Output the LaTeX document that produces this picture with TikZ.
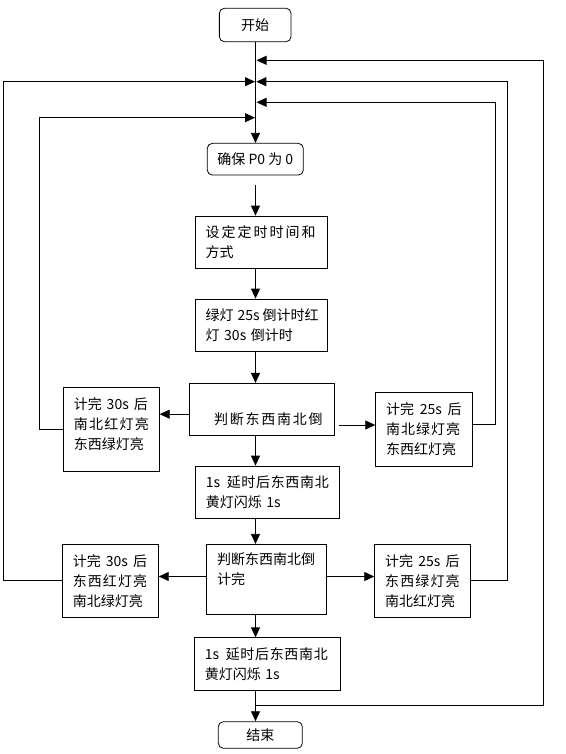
\documentclass[tikz,border=0pt]{standalone}
\usepackage{fontspec}
\usetikzlibrary{arrows.meta}
\newfontfamily\cjk{Noto Sans CJK SC}
\newcommand\spr[2]{\leavevmode\hbox to #1pt{#2}}
\tikzset{
  conn/.style={line width=0.8pt},
  arr/.style={conn,-{Triangle[length=10pt,width=9pt]}},
  box/.style={draw,line width=0.8pt,inner xsep=10.5pt,inner ysep=0pt,align=left,
    font=\cjk\fontsize{14}{20}\selectfont},
  rbox/.style={draw,line width=0.8pt,rounded corners=5pt,inner sep=0pt,align=center,
    font=\cjk\fontsize{14}{20}\selectfont},
}
\begin{document}
\begin{tikzpicture}[x=1pt,y=-1pt]
\useasboundingbox (0,0) rectangle (565,754);
% nodes
\node[rbox,minimum width=71.7pt,minimum height=33.4pt] (start) at (255.2,25) {开始};
\node[rbox,minimum width=96pt,minimum height=31.7pt] (ensure) at (255.3,159.2) {确保 P0 为 0};
\node[box,text width=111.3pt,minimum height=52.3pt] (set) at (261.2,242.2)
  {\spr{110}{设\hfil 定\hfil 定\hfil 时\hfil 时\hfil 间\hfil 和}\\方式};
\node[box,text width=111.3pt,minimum height=52pt] (green) at (261.2,325)
  {\spr{109}{绿\hfil 灯\hfil\hskip4pt 25s\hskip3pt\hfil 倒\hfil 计\hfil 时\hfil 红}\\灯 30s 倒计时};
\node[box,text width=123.7pt,minimum height=51.7pt] (jd1) at (261.7,409.2)
  {\rule{0pt}{12pt}\\\hspace*{14.2pt}\spr{108.7}{判\hfil 断\hfil 东\hfil 西\hfil 南\hfil 北\hfil 倒}};
\node[box,text width=75pt,minimum height=83.7pt] (lb1) at (111.3,429.2)
  {\spr{74}{计完\hfil 30s\hfil 后}\\\spr{75}{南\hfil 北\hfil 红\hfil 灯\hfil 亮}\\东西绿灯亮\rule[-11.5pt]{0pt}{0pt}};
\node[box,text width=75.6pt,minimum height=73.3pt] (rb1) at (424,429.3)
  {\spr{75.5}{计完\hfil 25s\hfil 后}\\\spr{74}{南\hfil 北\hfil 绿\hfil 灯\hfil 亮}\\东西红灯亮};
\node[box,text width=123pt,minimum height=52.3pt] (d1) at (267.3,492.2)
  {\spr{123}{1s\hskip6pt\hfil 延\hfil 时\hfil 后\hfil 东\hfil 西\hfil 南\hfil 北}\\黄灯闪烁 1s};
\node[box,text width=98.6pt,minimum height=70pt] (jd2) at (266.5,579.3)
  {判断东西南北倒\\计完\\\rule[-2pt]{0pt}{0pt}};
\node[box,text width=75pt,minimum height=72.7pt] (lb2) at (110.3,580.7)
  {\spr{74.4}{计完\hfil 30s\hfil 后}\\\spr{74.4}{东\hfil 西\hfil 红\hfil 灯\hfil 亮}\\南北绿灯亮};
\node[box,text width=74.6pt,minimum height=72.7pt] (rb2) at (422.5,580.7)
  {\spr{74.5}{计完\hfil 25s\hfil 后}\\\spr{74.5}{东\hfil 西\hfil 绿\hfil 灯\hfil 亮}\\南北红灯亮};
\node[box,text width=125.4pt,minimum height=52.3pt] (d2) at (267.5,663.9)
  {\spr{123}{1s\hskip6pt\hfil 延\hfil 时\hfil 后\hfil 东\hfil 西\hfil 南\hfil 北}\\黄灯闪烁 1s};
\node[rbox,minimum width=84pt,minimum height=26.6pt] (end) at (260.3,735) {结束};
% main line coordinates
\coordinate (mx) at (255.5,0);
\coordinate (j1) at (256.5,60.3);
\coordinate (j2l) at (255,81.7);
\coordinate (j2r) at (256.3,81.7);
\coordinate (j3) at (256.5,102.3);
\coordinate (j4) at (255,117.7);
\coordinate (j5) at (255.5,705);
% main vertical flow
\draw[arr] (start.south -| mx) -- (ensure.north -| mx);
\draw[arr,shorten <=10pt] (ensure.south -| mx) -- (set.north -| mx);
\draw[arr] (set.south -| mx) -- (green.north -| mx);
\draw[arr] (green.south -| mx) -- (jd1.north -| mx);
\draw[arr] (jd1.south -| mx) -- (d1.north -| mx);
\draw[arr] (d1.south -| mx) -- (jd2.north -| mx);
\draw[arr] (jd2.south -| mx) -- (d2.north -| mx);
\draw[arr] (d2.south -| mx) -- (end.north -| mx);
% first decision branches
\coordinate (a1) at ([yshift=-5pt]jd1.west);
\draw[arr] (a1) -- (lb1.east |- a1);
\coordinate (a2) at ([xshift=5pt,yshift=-15.8pt]jd1.east);
\draw[arr] (a2) -- (rb1.west |- a2);
\draw[arr] ([yshift=5.3pt]rb1.east) -| (495,102.3) -- (j3);
\draw[arr] (lb1.west) -| (39.3,117.7) -- (j4);
% second decision branches
\coordinate (a3) at ([yshift=2.8pt]jd2.west);
\draw[arr] (a3) -- (lb2.east |- a3);
\coordinate (a4) at ([yshift=2.8pt]jd2.east);
\draw[arr] (a4) -- (rb2.west |- a4);
\draw[arr] (lb2.west) -| (3.3,81.7) -- (j2l);
\draw[arr] ([yshift=0.7pt]rb2.east) -| (507.3,81.7) -- (j2r);
% outer return from end
\draw[arr] (j5) -| (543.3,60.3) -- (j1);
\end{tikzpicture}
\end{document}
